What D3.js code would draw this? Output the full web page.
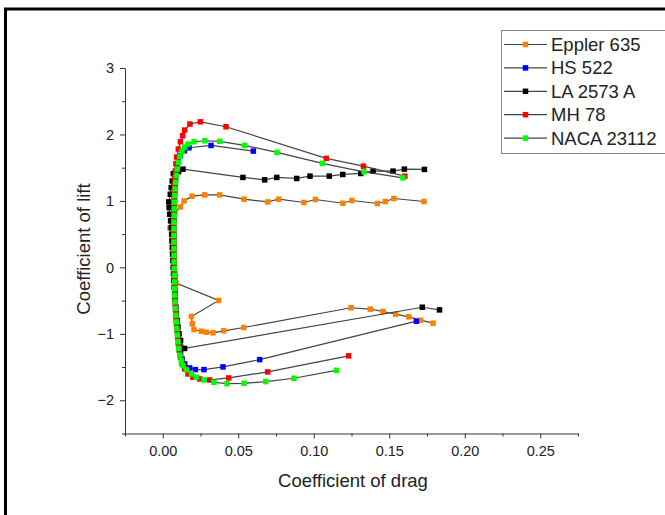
<!DOCTYPE html>
<html>
<head>
<meta charset="utf-8">
<script src="https://cdn.jsdelivr.net/npm/d3@7"></script>
<style>
  body { margin: 0; background: #fff; }
  svg { display: block; font-family: "Liberation Sans", Arial, sans-serif; }
</style>
</head>
<body>
<svg id="chart"></svg>
<script>
// drag polar data (Cd, Cl), in order of angle of attack
var epplerCd = [0.1790,0.1708,0.1629,0.1543,0.1459,0.1375,0.1247,0.0536,0.0404,0.0333,0.0289,0.0256,0.0207,0.0196,0.0190,0.0370,
    0.0088,0.0082,0.0078,0.0075,0.0072,0.0069,0.0066,0.0063,0.0048,0.0060,0.0080,
    0.0117,0.0141,0.0194,0.0278,0.0377,0.0538,0.0695,0.0768,0.0935,0.1011,0.1193,0.1253,0.1421,0.1474,0.1531,0.1730]
var epplerCl = [-0.84,-0.795,-0.744,-0.704,-0.664,-0.629,-0.608,-0.905,-0.955,-0.985,-0.976,-0.961,-0.935,-0.849,-0.739,-0.498,
    -0.235,-0.13,-0.03,0.07,0.17,0.27,0.37,0.47,0.59,0.70,0.81,
    0.909,1.0,1.071,1.09,1.09,1.026,0.985,1.026,0.976,1.021,0.965,1.006,0.961,0.991,1.036,0.991]

var hsCd = [0.1680,0.0642,0.0399,0.0273,0.0216,0.0178,0.0145,
    0.0128,0.0118,0.0110,0.0104,0.0099,0.0095,0.0091,0.0088,0.0085,0.0083,0.0081,0.0079,0.0078,0.0077,0.0076,0.0075,
    0.0074,0.0074,0.0074,0.0074,0.0074,0.0075,0.0076,0.0077,0.0078,0.0080,0.0082,0.0085,0.0089,0.0095,0.0104,0.0117,
    0.0143,0.0174,0.0320,0.0600]
var hsCl = [-0.81,-1.388,-1.498,-1.538,-1.538,-1.513,-1.453,
    -1.38,-1.29,-1.19,-1.09,-0.99,-0.89,-0.79,-0.69,-0.59,-0.49,-0.39,-0.29,-0.19,-0.09,0.01,0.11,
    0.21,0.31,0.41,0.51,0.61,0.71,0.81,0.91,1.01,1.11,1.21,1.31,1.41,1.51,1.60,1.68,
    1.754,1.80,1.835,1.75]

var laCd = [0.1833,0.1719,0.0145,0.0118,0.0108,0.0101,0.0095,0.0090,0.0086,0.0082,0.0079,0.0076,0.0073,0.0071,0.0069,
    0.0067,0.0065,0.0063,0.0061,0.0059,0.0056,0.0052,0.0046,0.0042,0.0040,0.0050,0.0056,0.0063,0.0070,0.0105,0.0134,
    0.0531,0.0675,0.0755,0.0887,0.0975,0.1103,0.1192,0.1311,0.1393,0.1525,0.1600,0.1733]
var laCl = [-0.64,-0.60,-1.22,-1.10,-1.00,-0.90,-0.80,-0.70,-0.60,-0.50,-0.40,-0.30,-0.20,-0.10,0.0,
    0.10,0.20,0.30,0.40,0.50,0.60,0.70,0.80,0.90,0.985,1.10,1.20,1.30,1.41,1.44,1.478,
    1.353,1.317,1.353,1.338,1.373,1.373,1.398,1.413,1.448,1.448,1.478,1.474]

var mhCd = [0.1231,0.0695,0.0437,0.0311,0.0245,0.0200,0.0167,0.0145,0.0128,
    0.0117,0.0109,0.0103,0.0099,0.0095,0.0091,0.0088,0.0085,0.0083,0.0081,0.0080,0.0079,0.0078,0.0077,0.0076,0.0075,
    0.0074,0.0073,0.0073,0.0073,0.0073,0.0073,0.0074,0.0074,0.0075,0.0076,0.0077,0.0079,0.0083,0.0087,0.0092,0.0103,
    0.0117,0.0132,0.0145,0.0180,0.0249,0.0419,0.1083,0.1329,0.1603]
var mhCl = [-1.332,-1.573,-1.664,-1.694,-1.679,-1.654,-1.604,-1.528,-1.45,
    -1.35,-1.25,-1.15,-1.05,-0.95,-0.85,-0.75,-0.65,-0.55,-0.45,-0.35,-0.25,-0.15,-0.05,0.05,0.15,
    0.25,0.35,0.45,0.55,0.65,0.75,0.85,0.95,1.05,1.15,1.25,1.35,1.45,1.56,1.66,1.78,
    1.89,1.98,2.066,2.157,2.19,2.116,1.64,1.523,1.372]

var nacaCd = [0.1150,0.0869,0.0682,0.0538,0.0426,0.0339,0.0273,0.0223,0.0190,0.0157,0.0134,
    0.0122,0.0113,0.0106,0.0101,0.0097,0.0093,0.0090,0.0087,0.0084,0.0082,0.0080,0.0079,0.0078,0.0077,0.0076,
    0.0075,0.0075,0.0074,0.0074,0.0074,0.0075,0.0075,0.0076,0.0077,0.0078,0.0080,0.0082,0.0085,0.0090,0.0096,
    0.0104,0.0114,0.0128,0.0145,0.0167,0.0207,0.0278,0.0378,0.0541,0.0757,0.1057,0.1333,0.1591]
var nacaCl = [-1.549,-1.669,-1.719,-1.745,-1.75,-1.73,-1.694,-1.654,-1.604,-1.543,-1.478,
    -1.403,-1.32,-1.22,-1.12,-1.02,-0.92,-0.82,-0.72,-0.62,-0.52,-0.42,-0.32,-0.22,-0.12,-0.02,
    0.08,0.18,0.28,0.38,0.48,0.58,0.68,0.78,0.88,0.98,1.08,1.18,1.28,1.38,1.48,
    1.58,1.67,1.75,1.81,1.855,1.89,1.905,1.896,1.836,1.73,1.564,1.437,1.347]

var seriesNames = ["Eppler 635", "HS 522", "LA 2573 A", "MH 78", "NACA 23112"]
var seriesColors = ["#ff8000", "#0000ff", "#000000", "#ff0000", "#00ff00"]
var xTicks = [0, 0.05, 0.10, 0.15, 0.20, 0.25]
var yTicks = [-2, -1, 0, 1, 2, 3]

var series = [
    {name: seriesNames[0], color: seriesColors[0], cd: epplerCd, cl: epplerCl},
    {name: seriesNames[1], color: seriesColors[1], cd: hsCd, cl: hsCl},
    {name: seriesNames[2], color: seriesColors[2], cd: laCd, cl: laCl},
    {name: seriesNames[3], color: seriesColors[3], cd: mhCd, cl: mhCl},
    {name: seriesNames[4], color: seriesColors[4], cd: nacaCd, cl: nacaCl}
]

var width = 665
var height = 515
var plot = ({left: 125, right: 578, top: 68, bottom: 433.5})

var svg = d3.select('#chart')
    .attr("width", width)
    .attr("height", height)

svg.append("rect").attr("width", width).attr("height", height).attr("fill", "#fff")
// outer frame (only left and top visible in the picture)
svg.append("rect")
    .attr("x", 5.5).attr("y", 9)
    .attr("width", 800).attr("height", 700)
    .attr("fill", "none").attr("stroke", "#000").attr("stroke-width", 3)

var x = d3.scaleLinear()
    .domain([-0.025, 0.275])
    .range([plot.left, plot.right])
var y = d3.scaleLinear()
    .domain([-2.5, 3])
    .range([plot.bottom, plot.top])

var minorX = d3.range(-0.025, 0.2751, 0.05)
var minorY = d3.range(-2.5, 3, 1)

// minor ticks first, then major axes on top
svg.append("g")
    .attr("transform", `translate(0,${plot.bottom})`)
    .call(d3.axisBottom(x).tickValues(minorX).tickSize(3).tickFormat(""))
    .call(g => g.select(".domain").remove())
svg.append("g")
    .attr("transform", `translate(${plot.left},0)`)
    .call(d3.axisLeft(y).tickValues(minorY).tickSize(3).tickFormat(""))
    .call(g => g.select(".domain").remove())

var xAxis = g => g
    .attr("transform", `translate(0,${plot.bottom})`)
    .call(d3.axisBottom(x).tickValues(xTicks).tickFormat(d3.format(".2f")).tickSize(5).tickSizeOuter(0).tickPadding(7))
var yAxis = g => g
    .attr("transform", `translate(${plot.left},0)`)
    .call(d3.axisLeft(y).tickValues(yTicks).tickFormat(d3.format("d")).tickSize(5).tickSizeOuter(0).tickPadding(6))

svg.append("g").attr("class", "axis").call(xAxis)
svg.append("g").attr("class", "axis").call(yAxis)
svg.selectAll(".axis text").attr("font-size", 14.5).attr("fill", "#222")
    .attr("font-family", "Liberation Sans, Arial, sans-serif")
svg.selectAll("line, .domain").attr("stroke", "#333")

svg.append("text")
    .attr("x", 353).attr("y", 487)
    .attr("text-anchor", "middle")
    .attr("font-size", 18.5).attr("fill", "#222")
    .text("Coefficient of drag")
svg.append("text")
    .attr("transform", "translate(90,249) rotate(-90)")
    .attr("text-anchor", "middle")
    .attr("font-size", 18.5).attr("fill", "#222")
    .text("Coefficient of lift")

var line = d3.line()
    .x(d => x(d[0]))
    .y(d => y(d[1]))

var groups = svg.append("g")
    .selectAll("g")
    .data(series)
    .join("g")

groups.append("path")
    .attr("fill", "none")
    .attr("stroke", "#444")
    .attr("stroke-width", 1.2)
    .attr("d", d => line(d.cd.map((c, i) => [c, d.cl[i]])))

var ms = 5.5
groups.selectAll("rect")
    .data(d => d.cd.map((c, i) => ({cd: c, cl: d.cl[i], color: d.color})))
    .join("rect")
    .attr("x", d => x(d.cd) - ms / 2)
    .attr("y", d => y(d.cl) - ms / 2)
    .attr("width", ms).attr("height", ms)
    .attr("fill", d => d.color)

// legend
var legend = svg.append("g")
legend.append("rect")
    .attr("x", 501.5).attr("y", 30.5)
    .attr("width", 180).attr("height", 123)
    .attr("fill", "#fff").attr("stroke", "#888").attr("stroke-width", 1)
var items = legend.selectAll("g.item")
    .data(series)
    .join("g")
    .attr("transform", (d, i) => `translate(0,${44.5 + i * 23.4})`)
items.append("line")
    .attr("x1", 504).attr("x2", 547)
    .attr("stroke", "#444").attr("stroke-width", 1.2)
items.append("rect")
    .attr("x", 525.5 - ms / 2).attr("y", -ms / 2)
    .attr("width", ms).attr("height", ms)
    .attr("fill", d => d.color)
items.append("text")
    .attr("x", 551).attr("dy", "0.35em")
    .attr("font-size", 18.5).attr("fill", "#222")
    .text(d => d.name)
</script>
</body>
</html>
